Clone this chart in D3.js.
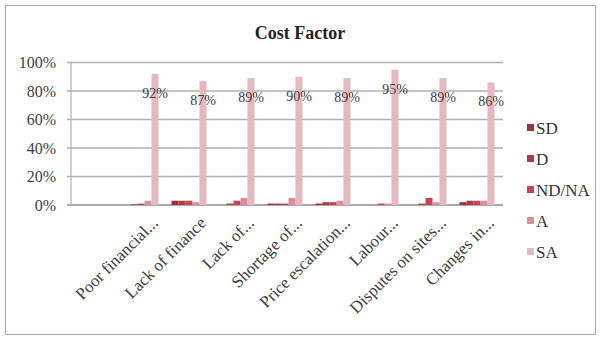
<!DOCTYPE html>
<html><head><meta charset="utf-8">
<script src="https://cdn.jsdelivr.net/npm/d3@7"></script>
<style>html,body{margin:0;padding:0;background:#fff;}svg{display:block;}</style>
</head><body>
<svg id="chart" width="600" height="339" font-family="Liberation Serif"></svg>
<script>
const title = "Cost Factor";
const categories = ["Poor financial...", "Lack of finance", "Lack of...", "Shortage of...", "Price escalation...", "Labour...", "Disputes on sites...", "Changes in..."];
const seriesNames = ["SD", "D", "ND/NA", "A", "SA"];
const SD = [0, 3, 0, 1, 1, 0, 0, 2];
const D = [0.5, 3, 1, 1, 2, 0, 1, 3];
const NDNA = [1, 3, 3, 1, 2, 1, 5, 3];
const A = [3, 2, 5, 5, 3, 1, 2, 3];
const SA = [92, 87, 89, 90, 89, 95, 89, 86];
const yTicks = [0, 20, 40, 60, 80, 100];
const colors = ["#99303f", "#ac3a4a", "#c4455a", "#d9909c", "#e6b8bf"];

(function () {
const series = [SD, D, NDNA, A, SA];
const svg = d3.select("#chart");
const font = "Liberation Serif";
const groupW = 35;

svg.append("rect").attr("x", 5.5).attr("y", 5.5).attr("width", 590).attr("height", 329)
  .attr("fill", "#fff").attr("stroke", "#a6a6a6").attr("stroke-width", 1);

svg.append("text").attr("x", 300).attr("y", 39).attr("text-anchor", "middle")
  .attr("font-family", font).attr("font-weight", "bold").attr("font-size", 18).attr("fill", "#222")
  .text(title);

const pLeft = 71, pRight = 503, pTop = 62.5, pBottom = 205;
const x = d3.scaleBand().domain(["", ...categories]).range([pLeft, pRight]).paddingInner(0).paddingOuter(0);
const y = d3.scaleLinear().domain([0, 100]).range([pBottom, pTop]);
const x1 = d3.scaleBand().domain(seriesNames).range([0, groupW]);
const gx = d => x(d) + (x.bandwidth() - groupW) / 2 - 2;

svg.append("g").selectAll("line").data(yTicks).join("line")
  .attr("x1", pLeft - 4).attr("x2", pRight)
  .attr("y1", d => y(d)).attr("y2", d => y(d))
  .attr("stroke", d => d === 0 ? "#8c8c8c" : "#b0b0b0").attr("stroke-width", 1.5);
svg.append("line").attr("x1", pLeft).attr("x2", pLeft).attr("y1", pTop).attr("y2", pBottom)
  .attr("stroke", "#b0b0b0").attr("stroke-width", 1.2);

const yAxis = d3.axisLeft(y).tickValues(yTicks).tickFormat(d => d + "%").tickSize(0).tickPadding(15);
const yg = svg.append("g").attr("transform", `translate(${pLeft},0)`).call(yAxis);
yg.attr("font-family", font).attr("font-size", 16);
yg.select(".domain").remove();
yg.selectAll("text").attr("fill", "#404040");

const groups = svg.append("g").selectAll("g").data(categories).join("g")
  .attr("transform", d => `translate(${gx(d)},0)`);
groups.selectAll("rect").data((d, i) => seriesNames.map((s, k) => ({s, v: series[k][i], k})))
  .join("rect")
  .attr("x", d => x1(d.s)).attr("width", x1.bandwidth())
  .attr("y", d => y(d.v)).attr("height", d => y(0) - y(d.v))
  .attr("fill", d => colors[d.k]);

svg.append("g").selectAll("text").data(categories).join("text")
  .attr("x", d => gx(d) + x1("SA") + x1.bandwidth() / 2)
  .attr("y", (d, i) => y(SA[i]) + 24)
  .attr("text-anchor", "middle").attr("font-family", font).attr("font-size", 14).attr("fill", "#404040")
  .text((d, i) => SA[i] + "%");

const xAxis = d3.axisBottom(x).tickSize(0).tickPadding(0);
const xg = svg.append("g").attr("transform", `translate(0,${pBottom})`).call(xAxis);
xg.attr("font-family", font).attr("font-size", 17);
xg.select(".domain").remove();
xg.selectAll("text")
  .attr("fill", "#404040")
  .attr("text-anchor", "end").attr("dy", 0)
  .attr("transform", "translate(16,19) rotate(-45)");

const lg = svg.append("g").selectAll("g").data(seriesNames).join("g")
  .attr("transform", (d, i) => `translate(527,${128 + i * 31})`);
lg.append("rect").attr("x", 0).attr("y", -4).attr("width", 7).attr("height", 7).attr("fill", (d, i) => colors[i]);
lg.append("text").attr("x", 9).attr("y", 5.5).attr("font-family", font).attr("font-size", 17).attr("fill", "#333").text(d => d);
})();
</script>
</body></html>
